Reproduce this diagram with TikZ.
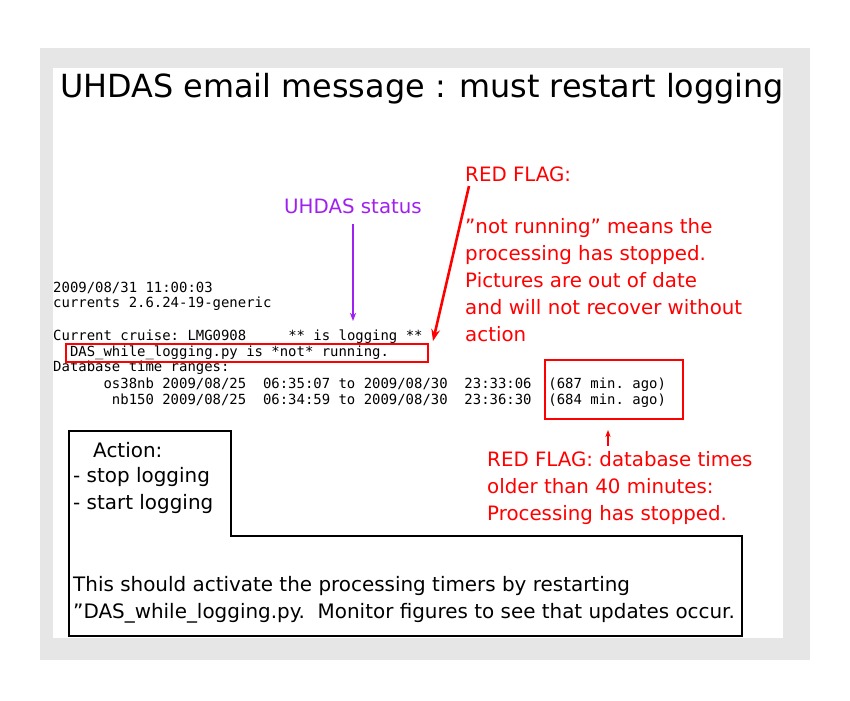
\documentclass[tikz,border=0pt]{standalone}
\usepackage{fontspec}
\setmainfont{DejaVu Sans}
\setmonofont{DejaVu Sans Mono}
\usetikzlibrary{arrows.meta, positioning}
\definecolor{flagred}{HTML}{FF0000}
\definecolor{statuspurple}{HTML}{A020F0}
\definecolor{framegray}{HTML}{E6E6E6}
\tikzset{
  redtext/.style={flagred, anchor=west, inner sep=0pt, align=left, font=\fontsize{16.9}{23}\selectfont},
  codeline/.style={anchor=west, inner sep=0pt, font=\ttfamily\fontsize{11.9}{12}\selectfont},
  blacktext/.style={anchor=west, inner sep=0pt, font=\fontsize{17}{22}\selectfont},
  flagbox/.style={draw=flagred, line width=1.6pt},
}
\begin{document}
\begin{tikzpicture}[x=0.03cm, y=-0.03cm]
  \useasboundingbox (0,0) rectangle (850,700);
  \fill[white] (0,0) rectangle (850,700);
  \fill[framegray] (40,48) rectangle (810,660);
  \fill[white] (53,68) rectangle (783,638);

  \node[anchor=west, inner sep=0pt, font=\fontsize{27.2}{30}\selectfont] (title) at (60,89) {UHDAS email message : must restart logging};

  % status message lines
  \node[codeline] (l1) at (53,288) {2009/08/31 11:00:03};
  \node[codeline] (l2) at (53,304) {currents 2.6.24-19-generic};
  \node[codeline] (l3) at (53,337) {Current cruise: LMG0908\ \ \ \ \ ** is logging **};
  \node[codeline] (l4) at (53,353) {\ \ DAS\_while\_logging.py is *not* running.};
  \node[codeline] (l5) at (53,368) {Database time ranges:};
  \node[codeline] (l6) at (53,385) {\ \ \ \ \ \ os38nb 2009/08/25\ \ 06:35:07 to 2009/08/30\ \ 23:33:06\ \ (687 min. ago)};
  \node[codeline] (l7) at (53,401) {\ \ \ \ \ \ \ nb150 2009/08/25\ \ 06:34:59 to 2009/08/30\ \ 23:36:30\ \ (684 min. ago)};

  % red boxes
  \draw[flagbox] (66,344) rectangle (428,362);
  \draw[flagbox] (545,360) rectangle (683,419);
  \coordinate (agobox) at (608,430);

  % labels
  \node[statuspurple, inner sep=0pt, font=\fontsize{16.9}{20}\selectfont] (status) at (353,206) {UHDAS status};
  \coordinate (statusend) at (353,321);
  \draw[statuspurple, line width=1.2pt, -{Stealth[length=7pt]}] ([yshift=-9pt]status.south) -- (statusend);

  \node[redtext] (flag1) at (465,174) {RED FLAG:};
  \node[redtext, anchor=north west] (flag1text) at (465,218) {\symbol{34}not running\symbol{34} means the\\processing has stopped.\\Pictures are out of date\\and will not recover without\\action};
  \coordinate (runend) at (433,341);
  \draw[flagred, line width=2.2pt, -{Stealth[length=10pt]}] (469,186) -- (runend);

  \node[redtext, anchor=north west] (flag2) at (487,451) {RED FLAG: database times\\older than 40 minutes:\\Processing has stopped.};
  \coordinate (flag2start) at (608,446);
  \draw[flagred, line width=2pt, -{Stealth[length=6pt]}] (flag2start) -- (agobox);

  % action box
  \draw[line width=1.6pt] (69,431) -- (231,431) -- (231,536) -- (742,536) -- (742,636) -- (69,636) -- cycle;
  \node[blacktext] (action) at (93,450) {Action:};
  \node[blacktext] (stop) at (73,477) {- stop logging};
  \node[blacktext] (start) at (73,504) {- start logging};
  \node[blacktext] (restart) at (73,586) {This should activate the processing timers by restarting};
  \node[blacktext] (monitor) at (73,613) {\symbol{34}DAS\_while\_logging.py.\ \ Monitor figures to see that updates occur.};
\end{tikzpicture}
\end{document}
